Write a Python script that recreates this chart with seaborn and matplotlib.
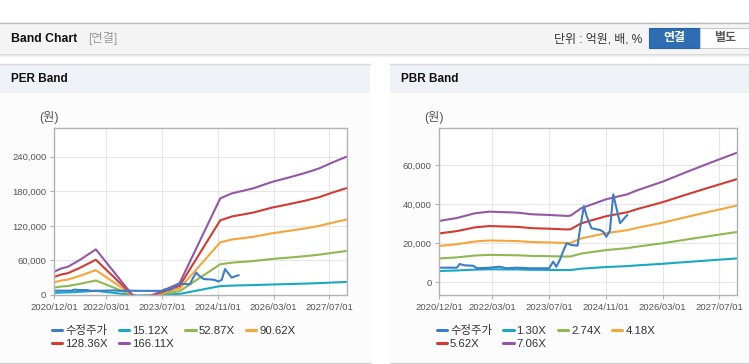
import matplotlib
matplotlib.use("Agg")
import numpy as np
import pandas as pd
import matplotlib.pyplot as plt
import matplotlib.dates as mdates
import seaborn as sns
from matplotlib.patches import Rectangle
from matplotlib.lines import Line2D
from matplotlib.ticker import FixedLocator, FuncFormatter

# ---------------- data ----------------
price_label = "수정주가"
price_dates = ['2020-12-01', '2021-05-01', '2021-05-25', '2021-07-05', '2021-09-18', '2021-10-20',
               '2022-02-10', '2022-05-01', '2022-07-01', '2022-09-25', '2023-01-15', '2023-07-01',
               '2023-08-05', '2023-09-01', '2023-10-01', '2023-10-28', '2023-11-28', '2024-01-10',
               '2024-03-01', '2024-03-25', '2024-04-25', '2024-05-15', '2024-06-28', '2024-09-10',
               '2024-10-05', '2024-11-03', '2024-12-03', '2025-01-01', '2025-02-01', '2025-02-28',
               '2025-03-25', '2025-05-01']
price_values = [7500, 7500, 9400, 8700, 8500, 7200, 7500, 8000, 7200, 7500, 7200, 7200,
                10600, 8000, 11500, 15700, 20000, 19100, 18800, 28500, 39100, 34500, 27700, 26800,
                26000, 23400, 26300, 45100, 37100, 30300, 32000, 34500]

per_labels = ["15.12X", "52.87X", "90.62X", "128.36X", "166.11X"]
per_dates = ['2020-12-01', '2021-02-01', '2021-04-01', '2021-07-15', '2021-12-01', '2022-12-01',
             '2023-12-01', '2024-11-20', '2025-03-01', '2025-09-01', '2026-02-20', '2026-07-10',
             '2026-12-01', '2027-04-01', '2027-07-20', '2027-11-25']
per_15_12 = [3670, 4190, 4460, 5550, 7210, -1040, 1840, 15500, 16300, 17200, 18300, 19000,
             19800, 20600, 21600, 22700]
per_52_87 = [12850, 14640, 15600, 19400, 25220, -3650, 6450, 53400, 56150, 58900, 62600, 64920,
             67460, 69950, 73070, 76400]
per_90_62 = [22020, 25100, 26730, 33260, 43230, -6250, 11060, 91530, 96240, 100950, 107290, 111280,
             115630, 119890, 125240, 130950]
per_128_36 = [31190, 35560, 37870, 47110, 61230, -8860, 15660, 129640, 136320, 142990, 151980, 157630,
              163790, 169820, 177390, 185480]
per_166_11 = [40360, 46010, 49000, 60960, 79230, -11460, 20270, 167770, 176410, 185050, 196670, 203980,
              211960, 219760, 229560, 240030]

pbr_labels = ["1.30X", "2.74X", "4.18X", "5.62X", "7.06X"]
pbr_dates = ['2020-12-01', '2021-05-01', '2021-10-01', '2022-02-01', '2022-10-01', '2023-02-01',
             '2023-07-01', '2023-12-01', '2024-01-01', '2024-04-01', '2024-11-01', '2025-05-01',
             '2025-08-01', '2026-03-01', '2026-10-01', '2027-04-01', '2027-12-01']
pbr_1_30 = [5800, 6070, 6510, 6670, 6580, 6420, 6360, 6270, 6290, 6990, 7840, 8310, 8710, 9500,
            10450, 11230, 12250]
pbr_2_74 = [12220, 12800, 13730, 14060, 13860, 13540, 13400, 13210, 13260, 14740, 16520, 17510,
            18360, 20030, 22030, 23670, 25810]
pbr_4_18 = [18640, 19520, 20940, 21440, 21150, 20650, 20440, 20150, 20230, 22490, 25210, 26710,
            28010, 30560, 33610, 36120, 39380]
pbr_5_62 = [25070, 26250, 28160, 28830, 28440, 27760, 27480, 27090, 27200, 30240, 33890, 35910,
            37650, 41080, 45180, 48560, 52940]
pbr_7_06 = [31490, 32970, 35370, 36220, 35720, 34880, 34520, 34030, 34170, 37980, 42570, 45110,
            47300, 51610, 56760, 61000, 66510]

x_tick_labels = ['2020/12/01', '2022/03/01', '2023/07/01', '2024/11/01', '2026/03/01', '2027/07/01']
per_yticks = [0, 60000, 120000, 180000, 240000]
pbr_yticks = [0, 20000, 40000, 60000]

band_colors = ['#17a9c4', '#8fb84f', '#f5a53a', '#d23a32', '#9457a6']
price_color = '#3d7cc9'

# ---------------- style ----------------
sns.set_style("white")
plt.rcParams['font.family'] = ['Liberation Sans', 'Noto Sans CJK KR', 'DejaVu Sans']
plt.rcParams['axes.unicode_minus'] = False

W, H = 749, 364
fig = plt.figure(figsize=(W / 100, H / 100), dpi=100)
fig.patch.set_facecolor('white')


def fx(x):
    return x / W


def fy(y):
    return 1 - y / H


def frect(x0, y0, x1, y1, z=-2, **kw):
    fig.patches.append(Rectangle((fx(x0), fy(y1)), fx(x1) - fx(x0), fy(y0) - fy(y1),
                                 transform=fig.transFigure, figure=fig, zorder=z, **kw))


def fline(x0, x1, y, color, lw=1.0):
    fig.lines.append(Line2D([fx(x0), fx(x1)], [fy(y), fy(y)], transform=fig.transFigure,
                            figure=fig, color=color, lw=lw, zorder=-1))


# top header bar
frect(0, 22, 749, 53, fc='#f4f4f4', ec='none')
fline(0, 749, 22.5, '#bdbdbd', 1.0)
fline(0, 749, 53.5, '#d5d5d5', 1.0)
fline(0, 749, 54.5, '#e6e6e6', 1.0)
fline(0, 749, 55.5, '#f3f3f3', 1.0)
fig.text(fx(11), fy(38.5), 'Band Chart', fontsize=8.8, fontweight='bold', color='#111',
         va='center', ha='left')
fig.text(fx(88), fy(38.5), '[연결]', fontsize=8.8, color='#9a9a9a', va='center', ha='left')
fig.text(fx(642), fy(39), '단위 : 억원, 배, %', fontsize=8.6, color='#333', va='center', ha='right')
frect(648.5, 28.5, 700, 47.5, z=1, fc='#2f6db3', ec='#2a62a3', lw=0.8)
frect(700, 28.5, 752, 47.5, z=1, fc='white', ec='#c8c8c8', lw=0.8)
fig.text(fx(674), fy(38.5), '연결', fontsize=8.6, fontweight='bold', color='white',
         va='center', ha='center', zorder=3)
fig.text(fx(725), fy(38.5), '별도', fontsize=8.6, fontweight='bold', color='#555',
         va='center', ha='center', zorder=3)

# panels
for (px0, px1, title) in [(0, 370, 'PER Band'), (390, 749, 'PBR Band')]:
    frect(px0, 64, px1, 362, fc='#fcfcfc', ec='none')
    frect(px0, 64, px1, 93, fc='#eef1f6', ec='none')
    fline(px0, px1, 64, '#d9d9d9', 1.0)
    fline(px0, px1, 362.5, '#cfcfcf', 1.0)
    fig.text(fx(px0 + 11), fy(79), title, fontsize=8.5, fontweight='bold', color='#111',
             va='center', ha='left')


def build_df(band_dates, bands, labels):
    rows = []
    for lab, vals in zip(labels, bands):
        rows.append(pd.DataFrame({'date': pd.to_datetime(band_dates), 'value': vals, 'series': lab}))
    rows.append(pd.DataFrame({'date': pd.to_datetime(price_dates), 'value': price_values,
                              'series': price_label}))
    return pd.concat(rows, ignore_index=True)


tick_dates = [mdates.date2num(pd.Timestamp(s.replace('/', '-'))) for s in x_tick_labels]
fmt_comma = FuncFormatter(lambda v, p: f'{int(round(v)):,}')


def draw(ax_rect, df, labels, ylim, yticks, legend_x, unit_x):
    ax = fig.add_axes(ax_rect)
    ax.set_zorder(2)
    ax.set_facecolor('white')
    order = labels + [price_label]
    palette = dict(zip(order, band_colors + [price_color]))
    sns.lineplot(data=df, x='date', y='value', hue='series', hue_order=order, palette=palette,
                 estimator=None, sort=True, linewidth=1.5, legend=False, ax=ax)
    ax.set_xlim(mdates.date2num(pd.Timestamp('2020-12-01')), mdates.date2num(pd.Timestamp('2027-12-01')))
    ax.set_ylim(*ylim)
    ax.xaxis.set_major_locator(FixedLocator(tick_dates))
    ax.set_xticklabels(x_tick_labels)
    ax.yaxis.set_major_locator(FixedLocator(yticks))
    ax.yaxis.set_major_formatter(fmt_comma)
    ax.set_xlabel('')
    ax.set_ylabel('')
    ax.grid(True, color='#e6e6e6', lw=0.8)
    ax.set_axisbelow(True)
    for s in ax.spines.values():
        s.set_color('#b3b3b3')
        s.set_linewidth(1.0)
    ax.tick_params(axis='both', which='major', length=3, width=0.8, color='#b3b3b3',
                   labelsize=6.8, labelcolor='#555', pad=2.5, bottom=True, left=True)
    leg_order = [price_label, labels[3], labels[0], labels[4], labels[1], labels[2]]
    handles = [Line2D([], [], color=palette[l], lw=2.2) for l in leg_order]
    fig.legend(handles, leg_order, loc='upper left', bbox_to_anchor=(fx(legend_x), fy(325)),
               bbox_transform=fig.transFigure, ncol=4, frameon=False, fontsize=8.2,
               handlelength=0.9, handletextpad=0.25, columnspacing=1.0, labelspacing=0.22,
               borderpad=0, borderaxespad=0, labelcolor='#333')
    fig.text(fx(unit_x), fy(118), '(원)', fontsize=8.8, color='#555', ha='center', va='center')
    return ax


per_df = build_df(per_dates, [per_15_12, per_52_87, per_90_62, per_128_36, per_166_11], per_labels)
pbr_df = build_df(pbr_dates, [pbr_1_30, pbr_2_74, pbr_4_18, pbr_5_62, pbr_7_06], pbr_labels)

draw([fx(54), fy(295), fx(347) - fx(54), fy(128) - fy(295)], per_df, per_labels,
     (0, 290000), per_yticks, 52, 49)
draw([fx(439.3), fy(295), fx(737.3) - fx(439.3), fy(128) - fy(295)], pbr_df, pbr_labels,
     (-6500, 79100), pbr_yticks, 437, 434)

fig.savefig('out.png', dpi=100, facecolor=fig.get_facecolor())
